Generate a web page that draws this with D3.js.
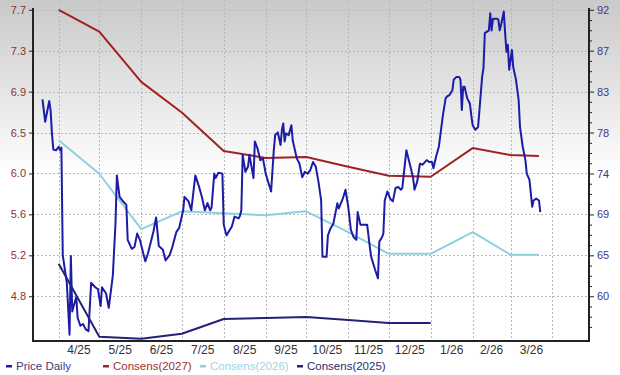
<!doctype html>
<html>
<head>
<meta charset="utf-8">
<script src="https://cdn.jsdelivr.net/npm/d3@7"></script>
<style>
  body { margin: 0; background: #fff; }
  svg { display: block; font-family: "Liberation Sans", Arial, sans-serif; }
</style>
</head>
<body>
<svg id="chart" width="620" height="375"></svg>
<script>
// month gridlines and the labels centred between them
var monthStarts = ["2025-04-01","2025-05-01","2025-06-01","2025-07-01","2025-08-01","2025-09-01",
    "2025-10-01","2025-11-01","2025-12-01","2026-01-01","2026-02-01","2026-03-01","2026-04-01"];
var monthLabels = ["4/25","5/25","6/25","7/25","8/25","9/25","10/25","11/25","12/25","1/26","2/26","3/26"];

// axis ticks (left = EPS consensus, right = price)
var epsTicks = [4.8, 5.214, 5.629, 6.043, 6.457, 6.871, 7.286, 7.7];
var priceTicks = [60, 64.57, 69.14, 73.71, 78.29, 82.86, 87.43, 92];

// daily price
var priceDates = ["2025-03-20","2025-03-22","2025-03-25","2025-03-26","2025-03-27","2025-03-28","2025-03-30",
    "2025-04-01","2025-04-02","2025-04-03","2025-04-04","2025-04-07","2025-04-09","2025-04-10","2025-04-11",
    "2025-04-13","2025-04-14","2025-04-15","2025-04-17","2025-04-19","2025-04-21","2025-04-23","2025-04-25",
    "2025-04-28","2025-04-30","2025-05-02","2025-05-03","2025-05-06","2025-05-08","2025-05-11","2025-05-13",
    "2025-05-14","2025-05-16","2025-05-18","2025-05-21","2025-05-22","2025-05-25","2025-05-27","2025-05-29",
    "2025-05-31","2025-06-04","2025-06-06","2025-06-10","2025-06-12","2025-06-14","2025-06-17","2025-06-19",
    "2025-06-22","2025-06-24","2025-06-27","2025-06-29","2025-07-02","2025-07-03","2025-07-06","2025-07-08",
    "2025-07-11","2025-07-14","2025-07-16","2025-07-18","2025-07-20","2025-07-22","2025-07-23","2025-07-25",
    "2025-07-26","2025-07-28","2025-07-31","2025-08-01","2025-08-03","2025-08-07","2025-08-09","2025-08-12",
    "2025-08-13","2025-08-14","2025-08-15","2025-08-17","2025-08-19","2025-08-20","2025-08-23","2025-08-24",
    "2025-08-26","2025-08-28","2025-08-30","2025-09-01","2025-09-05","2025-09-07","2025-09-08","2025-09-10",
    "2025-09-12","2025-09-13","2025-09-14","2025-09-15","2025-09-16","2025-09-18","2025-09-20","2025-09-21",
    "2025-09-24","2025-09-26","2025-09-28","2025-09-30","2025-10-02","2025-10-04","2025-10-06","2025-10-08",
    "2025-10-10","2025-10-12","2025-10-13","2025-10-16","2025-10-17","2025-10-19","2025-10-21","2025-10-24",
    "2025-10-25","2025-10-28","2025-10-30","2025-11-01","2025-11-03","2025-11-05","2025-11-07","2025-11-08",
    "2025-11-10","2025-11-12","2025-11-15","2025-11-17","2025-11-18","2025-11-21","2025-11-23","2025-11-24",
    "2025-11-26","2025-11-27","2025-11-28","2025-11-30","2025-12-02","2025-12-04","2025-12-06","2025-12-08",
    "2025-12-10","2025-12-11","2025-12-14","2025-12-17","2025-12-19","2025-12-20","2025-12-22","2025-12-24",
    "2025-12-26","2025-12-29","2025-12-31","2026-01-02","2026-01-03","2026-01-05","2026-01-07","2026-01-10",
    "2026-01-12","2026-01-13","2026-01-15","2026-01-17","2026-01-18","2026-01-20","2026-01-22","2026-01-23",
    "2026-01-24","2026-01-25","2026-01-26","2026-01-28","2026-01-30","2026-01-31","2026-02-01","2026-02-03",
    "2026-02-05","2026-02-08","2026-02-09","2026-02-10","2026-02-13","2026-02-14","2026-02-15","2026-02-16",
    "2026-02-19","2026-02-20","2026-02-21","2026-02-22","2026-02-24","2026-02-25","2026-02-26","2026-02-27",
    "2026-02-28","2026-03-02","2026-03-03","2026-03-05","2026-03-07","2026-03-08","2026-03-10","2026-03-12",
    "2026-03-13","2026-03-15","2026-03-17","2026-03-18","2026-03-20","2026-03-22","2026-03-23"];
var priceValues = [82.0,79.5,81.8,80.8,78.2,76.4,76.3,
    76.7,76.3,76.6,64.6,61.5,55.7,64.5,58.3,
    59.4,59.9,57.6,56.7,56.9,56.3,56.1,61.5,
    61.0,60.8,58.9,61.0,60.3,58.7,62.3,68.2,
    73.5,71.1,70.7,70.2,66.3,65.3,65.5,67.0,
    66.3,63.9,64.8,67.2,68.8,65.6,65.2,64.0,
    64.6,65.5,67.2,67.6,69.6,71.1,70.6,69.6,
    73.5,72.1,71.0,69.6,70.4,69.6,69.9,73.7,
    73.2,73.8,73.7,68.0,66.8,67.8,68.9,68.7,
    69.0,69.6,75.8,73.9,74.5,75.8,73.2,77.3,
    76.5,75.2,75.4,73.7,71.7,76.3,78.0,78.3,
    76.9,78.6,79.3,77.3,78.2,78.0,79.1,77.4,
    75.4,74.8,73.3,73.9,73.7,74.1,75.0,74.5,
    72.8,70.7,64.4,64.4,66.8,67.6,68.1,70.4,
    69.8,70.9,71.9,70.0,67.4,66.6,66.3,69.4,
    68.0,68.0,68.0,65.5,64.4,62.9,62.0,66.1,
    66.6,67.0,70.7,71.7,70.9,70.6,72.1,72.2,
    71.9,72.1,76.3,74.5,73.2,71.9,72.8,74.8,
    74.7,75.2,75.0,75.0,74.3,75.6,76.7,80.2,
    82.1,82.3,82.5,83.0,84.2,84.5,84.5,84.2,
    80.8,83.4,83.4,82.1,81.5,80.2,79.1,78.6,
    78.9,84.5,85.5,89.4,89.7,91.6,89.7,91.0,
    91.0,90.9,89.7,90.3,91.8,89.4,87.3,88.1,
    85.3,87.5,85.6,84.2,81.9,78.9,76.7,75.2,
    73.7,73.0,70.0,70.7,70.9,70.7,69.4];

// monthly consensus EPS estimates
var consDates = ["2025-04-01","2025-05-01","2025-06-01","2025-07-01","2025-08-01","2025-09-01","2025-10-01",
    "2025-11-01","2025-12-01","2026-01-01","2026-02-01","2026-03-01","2026-03-22"];
var cons2027 = [7.70, 7.48, 6.97, 6.66, 6.27, 6.20, 6.21, 6.11, 6.02, 6.01, 6.30, 6.23, 6.22];
var cons2026 = [6.38, 6.04, 5.48, 5.66, 5.64, 5.62, 5.66, 5.45, 5.23, 5.23, 5.45, 5.22, 5.22];
var cons2025 = [5.13, 4.39, 4.37, 4.42, 4.57, 4.58, 4.59, 4.56, 4.53, 4.53];

var legendNames = ["Price Daily", "Consens(2027)", "Consens(2026)", "Consens(2025)"];
var colors = ["#1c1ca6", "#a02222", "#8ecfe0", "#222278"];
var textColors = ["#3a3a80", "#a03030", "#9fd3e2", "#2a2a6a"];

var W = 620, H = 375;
var plotL = 33, plotR = 589, plotT = 8, plotB = 341;
var parse = d3.timeParse("%Y-%m-%d");

var svg = d3.select("#chart");

// background fade
var grad = svg.append("defs").append("linearGradient")
    .attr("id", "bg").attr("x1", 0).attr("y1", 0).attr("x2", 0).attr("y2", 1);
grad.append("stop").attr("offset", 0).attr("stop-color", "#c9c9c9");
grad.append("stop").attr("offset", 0.47).attr("stop-color", "#ffffff");
svg.append("rect").attr("width", W).attr("height", H).attr("fill", "url(#bg)");

var x = d3.scaleTime()
    .domain([new Date(2025, 2, 13), new Date(2026, 3, 28)])
    .range([plotL, plotR]);
var yPrice = d3.scaleLinear().domain([55, 92.2]).range([plotB, plotT]);
var yEps = d3.scaleLinear().domain([4.8, 7.7]).range([yPrice(60), yPrice(92)]);

// grid
var grid = svg.append("g").attr("stroke", "#b8b8b8").attr("stroke-dasharray", "2,2").attr("stroke-width", 1);
grid.selectAll(".h").data(epsTicks).enter().append("line")
    .attr("x1", plotL).attr("x2", plotR)
    .attr("y1", function(d) { return Math.round(yEps(d)) + 0.5; })
    .attr("y2", function(d) { return Math.round(yEps(d)) + 0.5; });
grid.selectAll(".v").data(monthStarts).enter().append("line")
    .attr("y1", 0).attr("y2", plotB)
    .attr("x1", function(d) { return Math.round(x(parse(d))) + 0.5; })
    .attr("x2", function(d) { return Math.round(x(parse(d))) + 0.5; });

// lines
var consData = consDates.map(parse);
function drawLine(dates, values, yScale, color) {
    var line = d3.line()
        .x(function(d, i) { return x(dates[i]); })
        .y(function(d) { return yScale(d); });
    svg.append("path")
        .attr("fill", "none")
        .attr("stroke", color)
        .attr("stroke-width", 2)
        .attr("stroke-linejoin", "round")
        .attr("d", line(values));
}
drawLine(consData, cons2026, yEps, colors[2]);
drawLine(consData, cons2027, yEps, colors[1]);
drawLine(consData, cons2025, yEps, colors[3]);
drawLine(priceDates.map(parse), priceValues, yPrice, colors[0]);

// left axis
var yAxisL = d3.axisLeft(yEps).tickValues(epsTicks).tickFormat(d3.format(".1f")).tickSize(4).tickPadding(3);
var gL = svg.append("g").attr("transform", "translate(" + plotL + ",0)").call(yAxisL);
gL.select(".domain").remove();
gL.selectAll("text").attr("fill", "#8c3333").style("font-size", "11px");
gL.selectAll("line").attr("stroke", "#222");

// right axis with minor ticks
var minor = d3.range(-4, 29).map(function(i) { return 60 + i * (32 / 28); })
    .filter(function(v, i) { return (i % 4) !== 0 && v > 55; });
var gM = svg.append("g").attr("transform", "translate(" + plotR + ",0)")
    .call(d3.axisRight(yPrice).tickValues(minor).tickSize(3).tickFormat(""));
gM.select(".domain").remove();
gM.selectAll("line").attr("stroke", "#222");
var yAxisR = d3.axisRight(yPrice).tickValues(priceTicks).tickFormat(d3.format(".0f")).tickSize(5).tickPadding(3);
var gR = svg.append("g").attr("transform", "translate(" + plotR + ",0)").call(yAxisR);
gR.select(".domain").remove();
gR.selectAll("text").attr("fill", "#3a3a8a").style("font-size", "11px");
gR.selectAll("line").attr("stroke", "#222");

// frame
svg.append("line").attr("x1", plotL).attr("x2", plotL).attr("y1", plotT).attr("y2", plotB + 1)
    .attr("stroke", "#222").attr("stroke-width", 2);
svg.append("line").attr("x1", plotR).attr("x2", plotR).attr("y1", plotT).attr("y2", plotB + 1)
    .attr("stroke", "#222").attr("stroke-width", 2);
svg.append("line").attr("x1", plotL).attr("x2", plotR).attr("y1", plotB).attr("y2", plotB)
    .attr("stroke", "#222").attr("stroke-width", 2);

// month labels centred in each month
svg.append("g").selectAll("text").data(monthLabels).enter().append("text")
    .attr("x", function(d, i) { return (x(parse(monthStarts[i])) + x(parse(monthStarts[i + 1]))) / 2; })
    .attr("y", 354)
    .attr("text-anchor", "middle")
    .attr("fill", "#333")
    .style("font-size", "12px")
    .text(function(d) { return d; });

// legend
var lg = svg.append("g").selectAll("g").data(legendNames).enter().append("g")
    .attr("transform", function(d, i) { return "translate(" + (6 + i * 97) + ",370)"; });
lg.append("rect").attr("x", 0).attr("y", -5).attr("width", 6).attr("height", 2.5)
    .attr("fill", function(d, i) { return colors[i]; });
lg.append("text").attr("x", 10).attr("y", 0)
    .attr("fill", function(d, i) { return textColors[i]; })
    .style("font-size", "11.5px")
    .text(function(d) { return d; });
</script>
</body>
</html>
